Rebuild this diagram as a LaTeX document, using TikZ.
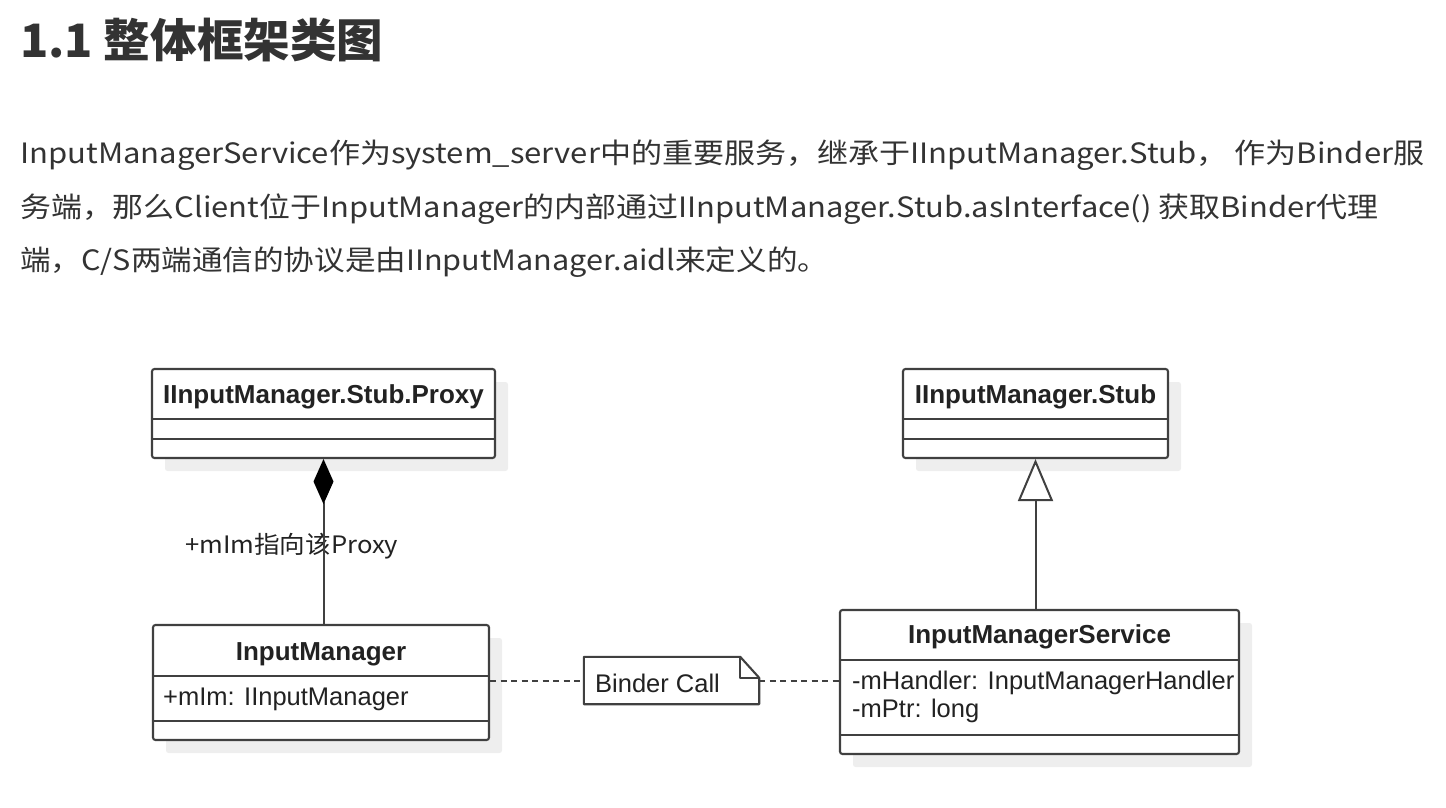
\documentclass[tikz,border=0pt]{standalone}
\usepackage{fontspec}
\setmainfont{Liberation Sans}
\newfontfamily\cjk{Noto Sans CJK SC}
\usetikzlibrary{arrows.meta,calc,shadows}
\definecolor{txt}{HTML}{333333}
\definecolor{ln}{HTML}{404040}
\definecolor{shd}{HTML}{EEEEEE}
\definecolor{dtxt}{HTML}{222222}
\begin{document}
\begin{tikzpicture}[x=1pt,y=-1pt,
  umlbox/.style={draw=ln, line width=2.1pt, rounded corners=2.5pt, fill=white, inner sep=0pt,
    general shadow={fill=shd, shadow xshift=13pt, shadow yshift=-13pt}},
  hdr/.style={anchor=base, inner sep=0pt, text=dtxt, font=\fontsize{26}{30}\selectfont\bfseries},
  attr/.style={anchor=base west, inner sep=0pt, text=dtxt, font=\fontsize{25.5}{30}\selectfont},
  divider/.style={draw=ln, line width=2.1pt},
  conn/.style={draw=ln, line width=2pt},
  body/.style={anchor=base west, inner sep=0pt, text=txt, font=\cjk\fontsize{28}{32}\selectfont}
]
\useasboundingbox (0,0) rectangle (1446,808);

% title and paragraph
\node[anchor=base west, inner sep=0pt, text=txt, font=\cjk\bfseries\fontsize{46}{52}\selectfont] (title) at (20,58)
  {\resizebox{363pt}{\height}{1.1 整体框架类图}};
\node[body] (l1) at (20,163) {\resizebox{1404pt}{\height}{InputManagerService作为system\_server中的重要服务，继承于IInputManager.Stub， 作为Binder服}};
\node[body] (l2) at (20,217) {\resizebox{1358pt}{\height}{务端，那么Client位于InputManager的内部通过IInputManager.Stub.asInterface() 获取Binder代理}};
\node[body] (l3) at (20,270) {\resizebox{808pt}{\height}{端，C/S两端通信的协议是由IInputManager.aidl来定义的。}};

% class boxes
\node[umlbox, minimum width=343pt, minimum height=89pt] (proxy) at (323.5,413.5) {};
\node[umlbox, minimum width=265pt, minimum height=89pt] (stub) at (1035.5,413.5) {};
\node[umlbox, minimum width=336pt, minimum height=115pt] (im) at (321,682.5) {};
\node[umlbox, minimum width=399pt, minimum height=144pt] (ims) at (1039.5,682) {};

% dividers
\draw[divider] ($(proxy.north west)+(0,51)$) -- ($(proxy.north east)+(0,51)$);
\draw[divider] ($(proxy.north west)+(0,71)$) -- ($(proxy.north east)+(0,71)$);
\draw[divider] ($(stub.north west)+(0,51)$) -- ($(stub.north east)+(0,51)$);
\draw[divider] ($(stub.north west)+(0,71)$) -- ($(stub.north east)+(0,71)$);
\draw[divider] ($(im.north west)+(0,52)$) -- ($(im.north east)+(0,52)$);
\draw[divider] ($(im.north west)+(0,97)$) -- ($(im.north east)+(0,97)$);
\draw[divider] ($(ims.north west)+(0,51)$) -- ($(ims.north east)+(0,51)$);
\draw[divider] ($(ims.north west)+(0,126)$) -- ($(ims.north east)+(0,126)$);

% class texts
\node[hdr] (proxyname) at (323.5,403) {IInputManager.Stub.Proxy};
\node[hdr] (stubname) at (1035.5,403) {IInputManager.Stub};
\node[hdr] (imname) at (321,660) {InputManager};
\node[hdr] (imsname) at (1039.5,643) {InputManagerService};
\node[attr] (imattr) at (163,705) {+mIm: IInputManager};
\node[attr] (imsattr1) at (852,689) {-mHandler: InputManagerHandler};
\node[attr] (imsattr2) at (852,717) {-mPtr: long};

% note
\node[minimum width=175pt, minimum height=47pt, inner sep=0pt] (note) at (671.5,680.5) {};
\draw[conn, line width=2.1pt, fill=white, line join=round] (note.north west) -- ($(note.north east)+(-19,0)$) -- ($(note.north east)+(0,21)$)
  -- (note.south east) -- (note.south west) -- cycle;
\draw[conn, line width=2.1pt, line join=round] ($(note.north east)+(-19,0)$) -- ($(note.north east)+(-19,21)$) -- ($(note.north east)+(0,21)$);
\node[anchor=base west, inner sep=0pt, text=dtxt, font=\fontsize{25.5}{30}\selectfont] (notetext) at (595,692) {Binder Call};

% connectors
\node[anchor=base west, inner sep=0pt, text=dtxt, font=\cjk\fontsize{24}{28}\selectfont] (rolelbl) at (185,553)
  {\resizebox{213pt}{\height}{+mIm指向该Proxy}};
\draw[conn, -{Diamond[length=45pt,width=20pt,fill=black,color=black]}] (proxy.south |- im.north) -- (proxy.south);
\draw[conn, -{Triangle[open,length=42pt,width=35pt,fill=white]}] (stub.south |- ims.north) -- (stub.south);
\draw[conn, dash pattern=on 6pt off 4.5pt] (im.east |- note.west) -- (note.west);
\draw[conn, dash pattern=on 6pt off 4.5pt] (note.east) -- (ims.west |- note.east);
\end{tikzpicture}
\end{document}
